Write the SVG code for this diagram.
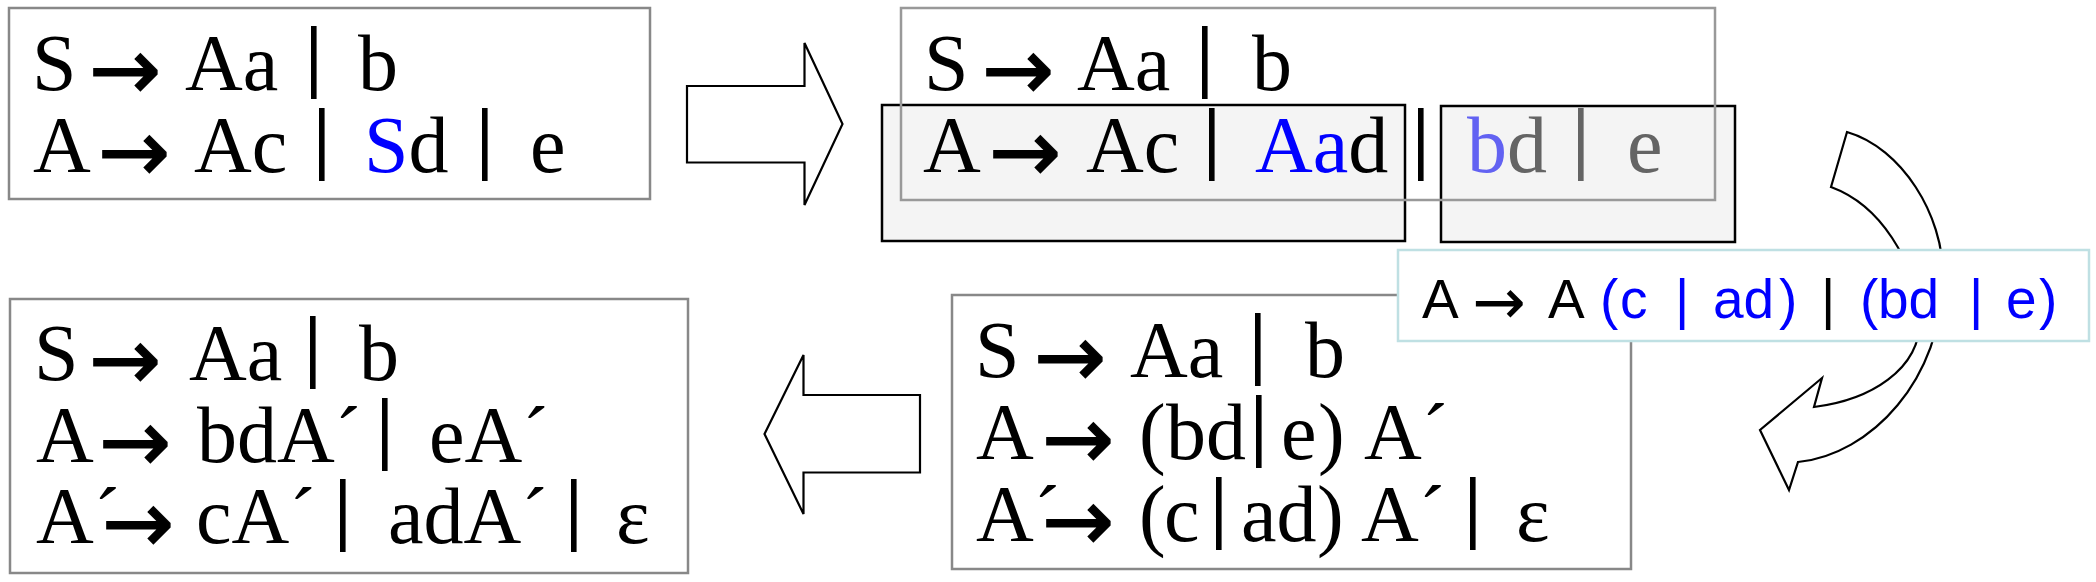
<svg xmlns="http://www.w3.org/2000/svg" width="2096" height="582" viewBox="0 0 2096 582">
<style>
.box{fill:#ffffff;stroke:#888888;stroke-width:2.5}
.gbox{fill:none;stroke:#999999;stroke-width:2.5}
.sbox{fill:#f4f4f4;stroke:#000000;stroke-width:2.5}
.cbox{fill:#ffffff;stroke:#bfe0e3;stroke-width:2.5}
.blk{fill:#ffffff;stroke:#000000;stroke-width:2.2;stroke-linejoin:miter}
.t{font-family:"Liberation Serif","Times New Roman",serif;font-size:80px;fill:#000000}
.s{font-family:"Liberation Sans",Arial,sans-serif;font-size:55px;fill:#000000}
.ar{font-family:"DejaVu Sans",sans-serif;font-size:86px;stroke:#000000;stroke-width:1.5}
.br{font-weight:bold}
.sar{font-family:"DejaVu Sans",sans-serif;font-size:64px}
.bl{fill:#0000ff}
.lb{fill:#6262f2}
.gr{fill:#646464}
</style>

<g id="box1">
<rect class="box" x="9" y="8" width="641" height="191"/>
<text class="t" y="90"><tspan x="32">S</tspan><tspan class="ar" x="89" y="99">→</tspan><tspan x="185" y="90">Aa</tspan><tspan class="br" x="305" y="82">|</tspan><tspan x="358" y="90">b</tspan></text>
<text class="t" y="172"><tspan x="33">A</tspan><tspan class="ar" x="98" y="181">→</tspan><tspan x="194" y="172">Ac</tspan><tspan class="br" x="313" y="164">|</tspan><tspan class="bl" x="364" y="172">S</tspan><tspan>d</tspan><tspan class="br" x="476" y="164">|</tspan><tspan x="530" y="172">e</tspan></text>
</g>

<g id="box2">
<rect class="sbox" x="882" y="105" width="523" height="136"/>
<rect class="sbox" x="1441" y="106" width="294" height="136"/>
<rect class="gbox" x="901" y="8" width="814" height="192"/>
<text class="t" y="90"><tspan x="924">S</tspan><tspan class="ar" x="982" y="99">→</tspan><tspan x="1077" y="90">Aa</tspan><tspan class="br" x="1196" y="82">|</tspan><tspan x="1252" y="90">b</tspan></text>
<text class="t" y="172"><tspan x="923">A</tspan><tspan class="ar" x="989" y="181">→</tspan><tspan x="1086" y="172">Ac</tspan><tspan class="br" x="1203" y="164">|</tspan><tspan class="bl" x="1255" y="172">Aa</tspan><tspan>d</tspan><tspan class="br" x="1412" y="164">|</tspan><tspan class="lb" x="1467" y="172">b</tspan><tspan class="gr">d</tspan><tspan class="gr br" x="1572" y="164">|</tspan><tspan class="gr" x="1627" y="172">e</tspan></text>
</g>

<g id="box4">
<rect class="box" x="952" y="295" width="679" height="274"/>
<text class="t" y="377"><tspan x="975">S</tspan><tspan class="ar" x="1034" y="386">→</tspan><tspan x="1130" y="377">Aa</tspan><tspan class="br" x="1249" y="369">|</tspan><tspan x="1305" y="377">b</tspan></text>
<text class="t" y="459"><tspan x="976">A</tspan><tspan class="ar" x="1042" y="468">→</tspan><tspan x="1139" y="459">(</tspan><tspan x="1166">bd</tspan><tspan class="br" x="1250" y="451">|</tspan><tspan x="1281" y="459">e</tspan><tspan x="1318">)</tspan><tspan x="1364">A´</tspan></text>
<text class="t" y="541"><tspan x="976">A´</tspan><tspan class="ar" x="1042" y="550">→</tspan><tspan x="1139" y="541">(</tspan><tspan x="1164">c</tspan><tspan class="br" x="1210" y="533">|</tspan><tspan x="1241" y="541">ad</tspan><tspan x="1317">)</tspan><tspan x="1361">A´</tspan><tspan class="br" x="1464" y="533">|</tspan><tspan x="1516" y="541">ε</tspan></text>
</g>

<g id="box5">
<rect class="box" x="10" y="299" width="678" height="274"/>
<text class="t" y="380"><tspan x="34">S</tspan><tspan class="ar" x="89" y="389">→</tspan><tspan x="189" y="380">Aa</tspan><tspan class="br" x="304" y="372">|</tspan><tspan x="359" y="380">b</tspan></text>
<text class="t" y="462"><tspan x="36">A</tspan><tspan class="ar" x="99" y="471">→</tspan><tspan x="197" y="462">bdA´</tspan><tspan class="br" x="376" y="454">|</tspan><tspan x="429" y="462">eA´</tspan></text>
<text class="t" y="543"><tspan x="36">A´</tspan><tspan class="ar" x="102" y="552">→</tspan><tspan x="196" y="543">cA´</tspan><tspan class="br" x="334" y="535">|</tspan><tspan x="388" y="543">adA´</tspan><tspan class="br" x="565" y="535">|</tspan><tspan x="616" y="543">ε</tspan></text>
</g>

<g id="connectors">
<path class="blk" d="M687,86 L804.5,86 L804.5,43 L842.5,124 L804.5,205 L804.5,162.5 L687,162.5 Z"/>
<path class="blk" d="M1847,132 C1902,148 1943,215 1943,275 C1943,380 1870,455 1798,462 L1789,490 L1760,430 L1822,378 L1814,407 C1870,400 1920,370 1920,320 C1915,260 1880,205 1831,187 Z"/>
<path class="blk" d="M920,395 L803.5,395 L803.5,355 L764.5,434 L803.5,514 L803.5,472.5 L920,472.5 Z"/>
</g>

<g id="box3">
<rect class="cbox" x="1398" y="250" width="691" height="91"/>
<text class="s" y="318"><tspan x="1422">A</tspan><tspan class="sar" x="1472" y="324">→</tspan><tspan x="1548" y="318">A</tspan><tspan class="bl" x="1600">(</tspan><tspan class="bl" x="1620">c</tspan><tspan class="bl" x="1675">|</tspan><tspan class="bl" x="1713">ad</tspan><tspan class="bl" x="1779">)</tspan><tspan x="1821">|</tspan><tspan class="bl" x="1860">(</tspan><tspan class="bl" x="1878">bd</tspan><tspan class="bl" x="1969">|</tspan><tspan class="bl" x="2006">e</tspan><tspan class="bl" x="2039">)</tspan></text>
</g>
</svg>
